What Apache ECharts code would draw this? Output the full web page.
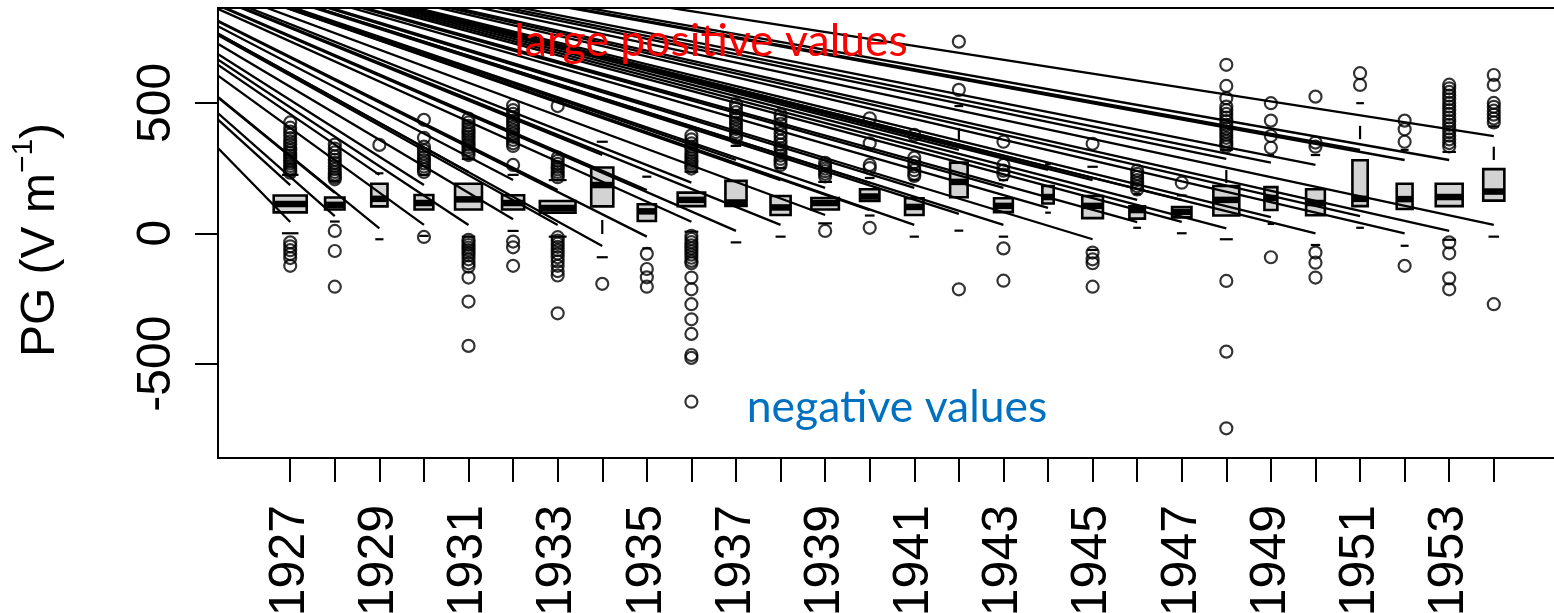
<!DOCTYPE html>
<html>
<head>
<meta charset="utf-8">
<script src="https://cdn.jsdelivr.net/npm/echarts@6/dist/echarts.min.js"></script>
<style>
  html, body { margin: 0; padding: 0; background: #ffffff; }
  #chart { width: 1554px; height: 613px; }
</style>
</head>
<body>
<div id="chart"></div>
<script>
// Yearly distribution of the potential gradient (PG), V/m
const years = ['1927', '1928', '1929', '1930', '1931', '1932', '1933', '1934', '1935', '1936',
  '1937', '1938', '1939', '1940', '1941', '1942', '1943', '1944', '1945', '1946',
  '1947', '1948', '1949', '1950', '1951', '1952', '1953', '1954'];

// number of observations per year (box widths scale with sqrt(n))
const sampleSize = [313, 108, 76, 101, 208, 140, 365, 140, 95, 217, 128, 116, 217, 108,
  98, 88, 101, 37, 123, 69, 108, 193, 48, 101, 67, 72, 208, 128];

const q1 = [80, 91, 103, 91, 91, 91, 79, 103, 47, 104, 105, 70, 91, 124, 70, 138, 81, 114,
  58, 56, 61, 68, 89, 69, 104, 93, 104, 125];
const median = [112, 109, 132, 116, 130, 116, 97, 185, 84, 128, 118, 99, 116, 141, 101, 197,
  105, 139, 105, 89, 82, 128, 135, 116, 132, 131, 139, 160];
const q3 = [145, 137, 190, 147, 190, 146, 124, 252, 111, 156, 201, 143, 135, 169, 134, 271,
  134, 181, 143, 103, 101, 181, 177, 169, 280, 190, 190, 246];
const whiskerLow = [0, 45, -23, -10, -13, 9, -13, -92, -58, 6, -35, -13, 38, 68, -13, 10, -13,
  79, -64, 21, 0, -23, 36, -45, 21, -48, -25, -13];
const whiskerHigh = [224, 200, 230, 224, 285, 224, 204, 351, 217, 236, 335, 250, 197, 212, 204,
  488, 204, 265, 255, 150, 145, 320, 300, 300, 499, 320, 312, 410];

// short pieces of the dashed whisker that remain visible
const whiskerPieceFrom = [null, null, null, null, null, null, null, -3, null, null, null, null, null, null,
  null, 358, null, null, null, null, null, 193, null, null, 361, null, null, 281];
const whiskerPieceTo = [null, null, null, null, null, null, null, 51, null, null, null, null, null, null,
  null, 404, null, null, null, null, null, 243, null, null, 412, null, null, 332];

// whisker streaks: each runs from a common point up-left of the plot to a point on a whisker
const streakOrigin = [-6.06, 1279];
const streakHigh = [185, 155, 224, 185, 235, 204, 166, 300, 166, 194, 281, 204, 174, 193, 174,
  320, 174, 243, 204, 128, 128, 285, 271, 262, 320, 281, 281, 373];
const streakLow = [43, 66, 19, 32, 32, 54, 32, -49, -13, 44, 9, 32, 70, 89, 32, 74, 32, 97, -23,
  43, 44, 19, 62, 0, 66, 0, 9, 32];

// outlying values per year
const outliers = [
  [425, 405, 390, 378, 365, 352, 340, 328, 318, 308, 298, 288, 278, 268, 258, 248, 240, 232, -35, -50, -65, -80, -95, -125],
  [340, 325, 310, 295, 282, 270, 258, 246, 235, 225, 215, 207, 9, -68, -205],
  [339],
  [435, 366, 332, 318, 305, 292, 280, 268, 256, 245, 235, -14],
  [440, 425, 412, 400, 390, 380, 370, 360, 350, 340, 330, 320, 310, 300, -25, -35, -45, -55, -65, -75, -85, -100, -115, -128, -170, -262, -432],
  [490, 472, 458, 445, 432, 420, 408, 395, 382, 370, 358, 345, 335, 262, -32, -54, -125],
  [488, 290, 278, 266, 255, 245, 235, 225, 215, -15, -28, -40, -52, -65, -78, -92, -108, -125, -145, -162, -307],
  [-194],
  [-79, -137, -169, -205],
  [375, 360, 345, 332, 320, 308, 297, 287, 277, 268, 258, 248, -10, -22, -34, -46, -58, -70, -82, -94, -106, -115, -170, -215, -272, -330, -386, -467, -478, -646],
  [495, 480, 465, 450, 437, 424, 412, 400, 388, 376, 365],
  [455, 438, 420, 402, 385, 370, 355, 340, 326, 312, 298, 285, 272, 262],
  [270, 258, 248, 238, 228, 218, 9],
  [441, 345, 262, 250, 21],
  [377, 290, 272, 256, 242, 228, 220],
  [735, 550, -215],
  [351, 262, 240, 225, -58, -182],
  [],
  [343, -74, -100, -115, -205],
  [240, 228, 216, 204, 192, 180, 168],
  [194],
  [646, 565, 518, 486, 472, 458, 444, 430, 416, 402, 390, 378, 366, 354, 343, 333, -183, -454, -748],
  [499, 432, 373, 328, -92],
  [524, 348, 332, -74, -113, -170],
  [614, 569],
  [432, 399, 351, -125],
  [570, 556, 542, 528, 514, 500, 486, 472, 458, 444, 430, 416, 402, 388, 374, 360, 346, 333, -35, -77, -173, -215],
  [607, 569, 500, 485, 470, 455, 440, 425, -272]
];

const yTicks = [-500, 0, 500];
const xTickPositions = years.map((_, i) => i + 1);
const xLabelPositions = xTickPositions.filter((_, i) => i % 2 === 0);

const maxN = Math.max(...sampleSize);
const boxData = years.map((_, i) => [i + 1, whiskerLow[i], q1[i], median[i], q3[i], whiskerHigh[i],
  0.8 * Math.sqrt(sampleSize[i] / maxN)]);

const outlierData = [];
outliers.forEach((vals, i) => vals.forEach(v => outlierData.push([i + 1, v])));

const streakData = [];
years.forEach((_, i) => {
  streakData.push([i + 1, streakHigh[i]]);
  streakData.push([i + 1, streakLow[i]]);
});

const INK = '#000000';
const FONT = "'Liberation Sans', Arial, sans-serif";

function renderBox(params, api) {
  const i = params.dataIndex;
  const xv = api.value(0);
  const half = api.size([api.value(6), 0])[0] / 2;
  const capHalf = half / 2;
  const cx = api.coord([xv, 0])[0];
  const yOf = v => api.coord([xv, v])[1];
  const yLo = yOf(api.value(1)), yQ1 = yOf(api.value(2)), yMd = yOf(api.value(3));
  const yQ3 = yOf(api.value(4)), yHi = yOf(api.value(5));
  const thin = { stroke: INK, lineWidth: 2.2 };
  const children = [
    { type: 'rect', shape: { x: cx - half, y: yQ3, width: half * 2, height: yQ1 - yQ3 },
      style: { fill: '#d3d3d3', stroke: INK, lineWidth: 2.6 } },
    { type: 'line', shape: { x1: cx - half, y1: yMd, x2: cx + half, y2: yMd },
      style: { stroke: INK, lineWidth: 6.5 } },
    { type: 'line', shape: { x1: cx - capHalf, y1: yLo, x2: cx + capHalf, y2: yLo }, style: thin },
    { type: 'line', shape: { x1: cx - capHalf, y1: yHi, x2: cx + capHalf, y2: yHi }, style: thin }
  ];
  if (whiskerPieceFrom[i] != null) {
    children.push({ type: 'line',
      shape: { x1: cx, y1: yOf(whiskerPieceFrom[i]), x2: cx, y2: yOf(whiskerPieceTo[i]) }, style: thin });
  }
  return { type: 'group', children };
}

function renderStreak(params, api) {
  const a = api.coord(streakOrigin);
  const b = api.coord([api.value(0), api.value(1)]);
  return { type: 'line', shape: { x1: a[0], y1: a[1], x2: b[0], y2: b[1] },
    style: { stroke: INK, lineWidth: 2.3 } };
}

const chart = echarts.init(document.getElementById('chart'), null, { renderer: 'canvas' });
chart.setOption({
  animation: false,
  backgroundColor: '#ffffff',
  grid: { left: 218, top: 8, width: 1348, height: 450, show: true,
    containLabel: false, outerBoundsMode: 'none',
    borderColor: INK, borderWidth: 2, backgroundColor: 'transparent' },
  xAxis: {
    type: 'value', min: -0.62, max: 29.62,
    axisLine: { show: false, onZero: false },
    splitLine: { show: false },
    axisTick: { show: true, inside: false, customValues: xTickPositions, length: 24,
      lineStyle: { color: INK, width: 2 } },
    axisLabel: { show: true, customValues: xLabelPositions, rotate: 90, margin: 47,
      fontSize: 50, fontFamily: FONT, color: INK, padding: [10, 0, 0, 0],
      formatter: v => years[Math.round(v) - 1] || '' }
  },
  yAxis: {
    type: 'value', min: -862, max: 864,
    axisLine: { show: false, onZero: false },
    splitLine: { show: false },
    axisTick: { show: true, inside: false, customValues: yTicks, length: 23,
      lineStyle: { color: INK, width: 2 } },
    axisLabel: { show: true, customValues: yTicks, rotate: 90, margin: 37,
      fontSize: 48, fontFamily: FONT, color: INK, formatter: v => String(v) },
    name: '{t|PG (V m}{s|\u22121}{e|)}',
    nameLocation: 'middle',
    nameRotate: 90,
    nameGap: 153,
    nameTextStyle: {
      color: INK, fontFamily: FONT, fontSize: 48,
      rich: {
        t: { fontSize: 48, fontFamily: FONT, color: INK, verticalAlign: 'bottom' },
        s: { fontSize: 30, fontFamily: FONT, color: INK, verticalAlign: 'bottom', padding: [0, 0, 26, 0] },
        e: { fontSize: 48, fontFamily: FONT, color: INK, verticalAlign: 'bottom', padding: [0, 14, 0, 0] }
      }
    }
  },
  series: [
    { type: 'custom', name: 'boxes', renderItem: renderBox, data: boxData, z: 2,
      encode: { x: 0, y: [1, 2, 3, 4, 5] } },
    { type: 'scatter', name: 'outliers', data: outlierData, symbol: 'circle', symbolSize: 12, z: 3,
      itemStyle: { color: 'rgba(0,0,0,0)', borderColor: INK, borderWidth: 2.2 } },
    { type: 'custom', name: 'streaks', renderItem: renderStreak, data: streakData, clip: true, z: 4,
      encode: { x: 0, y: 1 } }
  ],
  graphic: [
    { type: 'text', x: 711, y: 42, z: 10,
      style: { text: 'large positive values', fill: '#ff0000', font: "44.5px Lato, 'Open Sans', sans-serif",
        align: 'center', verticalAlign: 'middle' } },
    { type: 'text', x: 897, y: 408, z: 10,
      style: { text: 'negative values', fill: '#0070c0', font: "44.5px Lato, 'Open Sans', sans-serif",
        align: 'center', verticalAlign: 'middle' } }
  ]
});
</script>
</body>
</html>
